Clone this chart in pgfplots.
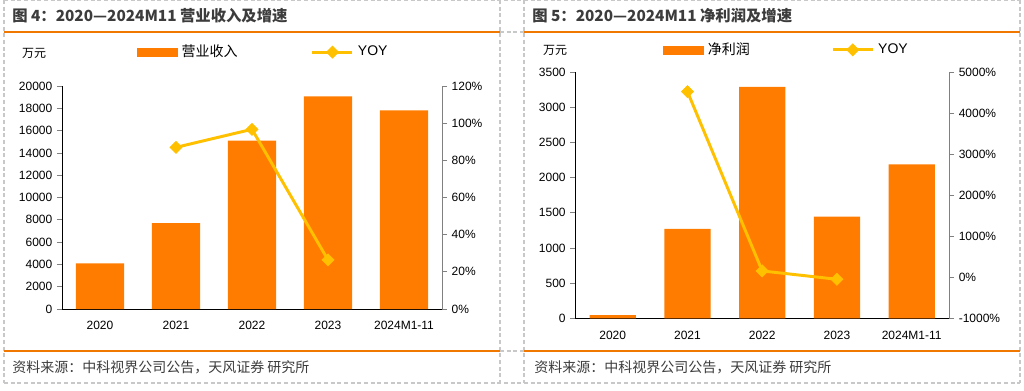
\documentclass[border=0pt]{standalone}
\usepackage{fontspec}
\setmainfont{Liberation Sans}
\newfontfamily\cjk{Noto Sans CJK SC}
\usepackage{pgfplots}
\usepackage{pgfplotstable}
\pgfplotsset{compat=1.18}
\definecolor{barorange}{RGB}{255,124,0}
\definecolor{lineyel}{RGB}{255,192,0}
\definecolor{ruleor}{RGB}{240,120,0}
\definecolor{dashgray}{RGB}{200,200,200}
\definecolor{titlegray}{RGB}{60,60,60}
\definecolor{axgray}{RGB}{128,128,128}

\pgfplotstableread{
x val
0 4100
1 7700
2 15100
3 19070
4 17820
}\revtable
\pgfplotstableread{
x yoy
1 87.0
2 96.7
3 26.4
}\revyoy
\pgfplotstableread{
x val
0 45
1 1271
2 3291
3 1446
4 2191
}\nptable
\pgfplotstableread{
x yoy
1 4527
2 154
3 -49
}\npyoy

\pgfplotsset{
  base/.style={
    scale only axis,
    xmin=-0.5, xmax=4.5,
    tick label style={font=\fontsize{9}{10}\selectfont, text=black},
    /pgf/number format/assume math mode=true,
    /pgf/number format/1000 sep={},
    scaled y ticks=false,
    tick align=outside,
    major tick length=3.75pt,
    tick style={line width=0.6pt},
    clip=false,
  },
  barax/.style={
    base,
    axis x line*=bottom, axis y line*=left,
    axis line style={line width=0.6pt, black},
    xtick={0,1,2,3,4},
    xticklabels={2020,2021,2022,2023,2024M1-11},
    x tick style={draw=none},
    xticklabel style={yshift=-2pt},
    extra x ticks={-0.5,0.5,1.5,2.5,3.5,4.5},
    extra x tick labels={},
    extra x tick style={tick style={draw=black, line width=0.6pt}, major tick length=3.75pt},
  },
  lineax/.style={
    base,
    axis y line*=right, axis x line=none,
    axis line style={line width=0.6pt, axgray},
    y tick style={axgray},
    yticklabel={\pgfmathprintnumber{\tick}\%},
    legend columns=2,
    legend cell align=left,
  },
  yoyline/.style={
    color=lineyel, line width=2.2pt,
    mark=square*, mark size=3.2pt,
    mark options={rotate=45, fill=lineyel, draw=lineyel, line width=0.5pt},
    legend image code/.code={\draw[##1, mark repeat=2, mark phase=2] plot coordinates {(0pt,0pt) (15pt,0pt) (30pt,0pt)};},
  },
}

\begin{document}
\begin{tikzpicture}[x=0.75pt,y=0.75pt]
\path[use as bounding box] (0,0) rectangle (1024,390);

% ---------- left chart ----------
\begin{axis}[barax,
  at={(46.5pt,60.75pt)}, anchor=south west,
  width=285pt, height=167.25pt,
  ymin=0, ymax=20000, ytick={0,2000,...,20000}]
\addplot[ybar, bar width=36pt, fill=barorange, draw=none, bar shift=0pt] table[x=x,y=val] {\revtable};
\end{axis}
\begin{axis}[lineax,
  at={(46.5pt,60.75pt)}, anchor=south west,
  width=285pt, height=167.25pt,
  ymin=0, ymax=120, ytick={0,20,...,120},
  legend style={at={(0.197,1.152)}, anchor=west, draw=none, fill=none, inner sep=0pt,
    font=\fontsize{10.5}{12}\selectfont,
    /tikz/every even column/.append style={column sep=52pt},
    nodes={inner sep=3pt}}]
\addlegendimage{legend image code/.code={\fill[barorange] (0pt,-3pt) rectangle (30pt,3pt);}}
\addlegendentry{{\cjk 营业收入}}
\addplot[yoyline] table[x=x,y=yoy] {\revyoy};
\addlegendentry{YOY}
\end{axis}

% ---------- right chart ----------
\begin{axis}[barax,
  at={(431.5pt,53.8pt)}, anchor=south west,
  width=280.3pt, height=184.5pt,
  ymin=0, ymax=3500, ytick={0,500,...,3500}]
\addplot[ybar, bar width=34.7pt, fill=barorange, draw=none, bar shift=0pt] table[x=x,y=val] {\nptable};
\end{axis}
\begin{axis}[lineax,
  at={(431.5pt,53.8pt)}, anchor=south west,
  width=280.3pt, height=184.5pt,
  ymin=-1000, ymax=5000, ytick={-1000,0,...,5000},
  legend style={at={(0.235,1.091)}, anchor=west, draw=none, fill=none, inner sep=0pt,
    font=\fontsize{10.5}{12}\selectfont,
    /tikz/every even column/.append style={column sep=58pt},
    nodes={inner sep=3pt}}]
\addlegendimage{legend image code/.code={\fill[barorange] (0pt,-3pt) rectangle (30pt,3pt);}}
\addlegendentry{{\cjk 净利润}}
\addplot[yoyline] table[x=x,y=yoy] {\npyoy};
\addlegendentry{YOY}
\end{axis}

% ---------- frames ----------
\begin{scope}[dashgray, line width=1pt, dash pattern=on 3pt off 2pt]
\draw (4,390) -- (4,7);
\draw (500,390) -- (500,7);
\draw (524,390) -- (524,7);
\draw (1020,390) -- (1020,7);
\draw (4,389.5) -- (1020,389.5);
\draw (4,7) -- (1020,7);
\draw (500,358) -- (524,358);
\draw (500,39) -- (524,39);
\end{scope}
\begin{scope}[ruleor, line width=1.6pt]
\draw (4,358) -- (500,358);
\draw (524,358) -- (1020,358);
\draw (4,39) -- (500,39);
\draw (524,39) -- (1020,39);
\end{scope}

% titles
\node[anchor=west, inner sep=0pt, text=titlegray, font=\cjk\bfseries\fontsize{11.5}{14}\selectfont] at (12,374) {图 4：2020—2024M11 营业收入及增速};
\node[anchor=west, inner sep=0pt, text=titlegray, font=\cjk\bfseries\fontsize{11.5}{14}\selectfont] at (532,374) {图 5：2020—2024M11 净利润及增速};
% units
\node[inner sep=0pt, font=\cjk\fontsize{9}{10}\selectfont] at (34,337) {万元};
\node[inner sep=0pt, font=\cjk\fontsize{9}{10}\selectfont] at (555,340) {万元};
% sources
\node[anchor=west, inner sep=0pt, text=titlegray, font=\cjk\fontsize{10.5}{12}\selectfont] at (12,23) {资料来源：中科视界公司公告，天风证券 研究所};
\node[anchor=west, inner sep=0pt, text=titlegray, font=\cjk\fontsize{10.5}{12}\selectfont] at (534,23) {资料来源：中科视界公司公告，天风证券 研究所};
\end{tikzpicture}
\end{document}
